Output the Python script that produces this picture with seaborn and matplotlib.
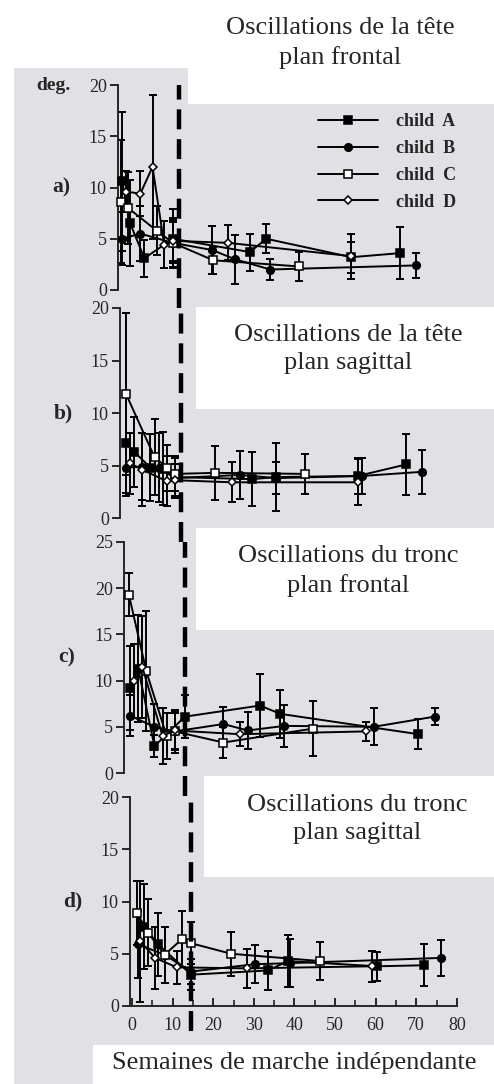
import matplotlib
matplotlib.use("Agg")
import matplotlib.pyplot as plt
import matplotlib.transforms as mtransforms
from matplotlib.patches import Rectangle
from matplotlib.lines import Line2D
from matplotlib.font_manager import FontProperties
import seaborn as sns

sns.set_style("ticks")
plt.rcParams["font.family"] = ["Liberation Serif", "DejaVu Serif"]

# ---------------- data ----------------
children = ["A", "B", "C", "D"]
legend_labels = ["child  A", "child  B", "child  C", "child  D"]
x_ticks = [0, 10, 20, 30, 40, 50, 60, 70, 80]
walking_onset_week = 14.5

titles = ["Oscillations de la tête\nplan frontal",
          "Oscillations de la tête\nplan sagittal",
          "Oscillations du tronc\nplan frontal",
          "Oscillations du tronc\nplan sagittal"]
panel_labels = ["a)", "b)", "c)", "d)"]
x_label = "Semaines de marche indépendante"
y_unit = "deg."

# panel a : head, frontal plane
wk_a_A = [0.5, 2.5, 6, 13, 32, 36, 57, 69]
val_a_A = [10.6, 6.5, 3.1, 5.0, 3.7, 5.0, 3.2, 3.6]
err_a_A = [6.8, 4.2, 1.8, 2.9, 1.8, 1.4, 1.5, 2.5]
wk_a_B = [0.5, 5, 13, 22.7, 28.3, 37, 73]
val_a_B = [5.0, 5.5, 4.6, 3.9, 3.0, 2.0, 2.4]
err_a_B = [2.6, 2.7, 2.0, 2.3, 2.4, 1.0, 1.2]
wk_a_C = [0.3, 2, 9, 13, 23, 44]
val_a_C = [8.6, 8.0, 5.8, 4.6, 2.9, 2.3]
err_a_C = [6.0, 3.5, 2.4, 2.4, 1.3, 1.4]
wk_a_D = [1.5, 5, 8, 10.9, 13, 26.6, 57]
val_a_D = [9.6, 9.4, 12.0, 4.4, 4.8, 4.6, 3.3]
err_a_D = [2.0, 2.2, 7.0, 2.3, 2.0, 1.7, 2.2]

# panel b : head, sagittal plane
wk_b_A = [1, 3, 7, 10, 13, 32, 38, 58, 70]
val_b_A = [7.1, 6.3, 4.8, 4.7, 3.9, 3.7, 3.9, 4.0, 5.1]
err_b_A = [5.0, 3.3, 3.2, 3.5, 2.0, 2.6, 3.2, 1.7, 2.9]
wk_b_B = [1, 5, 9, 13, 29, 38, 59, 74]
val_b_B = [4.8, 4.9, 4.8, 3.8, 4.1, 3.8, 4.0, 4.4]
err_b_B = [2.4, 3.2, 3.3, 1.9, 2.3, 1.5, 1.7, 2.1]
wk_b_C = [1, 8, 11, 13, 23, 45]
val_b_C = [11.8, 5.8, 4.8, 4.2, 4.3, 4.2]
err_b_C = [7.7, 3.6, 2.2, 1.6, 2.6, 1.9]
wk_b_D = [2, 5, 11, 13, 27, 58]
val_b_D = [5.2, 4.6, 3.5, 3.6, 3.4, 3.4]
err_b_D = [2.9, 3.5, 2.4, 1.5, 1.9, 2.2]

# panel c : trunk, frontal plane
wk_c_A = [1, 3, 7, 14.5, 33, 38, 72]
val_c_A = [9.2, 11.3, 2.9, 6.1, 7.3, 6.4, 4.2]
err_c_A = [4.5, 5.8, 1.2, 2.3, 3.4, 2.6, 1.6]
wk_c_B = [1, 7, 12, 24, 30, 39, 61, 76]
val_c_B = [6.2, 5.0, 4.5, 5.3, 4.6, 5.1, 5.0, 6.1]
err_c_B = [2.2, 2.5, 2.0, 1.8, 2.0, 2.3, 2.0, 0.95]
wk_c_C = [0.7, 5, 10, 12, 24, 46]
val_c_C = [19.3, 11.0, 4.0, 4.5, 3.3, 4.8]
err_c_C = [2.3, 6.5, 2.5, 2.3, 1.7, 3.0]
wk_c_D = [2, 4, 9, 12, 28, 59]
val_c_D = [10.0, 11.5, 4.0, 4.6, 4.2, 4.5]
err_c_D = [4.0, 5.5, 3.0, 2.0, 1.3, 1.0]

# panel d : trunk, sagittal plane
wk_d_A = [3, 6.4, 14.6, 33.5, 38.4, 60.4, 72]
val_d_A = [7.6, 5.9, 3.0, 3.4, 4.3, 3.8, 3.9]
err_d_A = [4.1, 3.0, 1.5, 1.9, 2.5, 1.4, 2.0]
wk_d_B = [1.5, 8, 14.6, 30.3, 39, 76]
val_d_B = [5.9, 4.9, 3.3, 4.0, 4.1, 4.6]
err_d_B = [3.2, 2.7, 1.2, 1.8, 2.3, 1.7]
wk_d_C = [1.2, 4, 8, 12.3, 14.6, 24.4, 46.3]
val_d_C = [8.9, 7.0, 4.9, 6.4, 6.0, 5.0, 4.3]
err_d_C = [3.1, 3.2, 2.7, 2.7, 2.0, 2.1, 1.8]
wk_d_D = [2, 5.7, 11, 28.3, 59]
val_d_D = [6.2, 4.6, 3.7, 3.6, 3.8]
err_d_D = [5.8, 3.0, 1.6, 1.9, 1.5]

panels = [
    {"A": (wk_a_A, val_a_A, err_a_A), "B": (wk_a_B, val_a_B, err_a_B),
     "C": (wk_a_C, val_a_C, err_a_C), "D": (wk_a_D, val_a_D, err_a_D)},
    {"A": (wk_b_A, val_b_A, err_b_A), "B": (wk_b_B, val_b_B, err_b_B),
     "C": (wk_b_C, val_b_C, err_b_C), "D": (wk_b_D, val_b_D, err_b_D)},
    {"A": (wk_c_A, val_c_A, err_c_A), "B": (wk_c_B, val_c_B, err_c_B),
     "C": (wk_c_C, val_c_C, err_c_C), "D": (wk_c_D, val_c_D, err_c_D)},
    {"A": (wk_d_A, val_d_A, err_d_A), "B": (wk_d_B, val_d_B, err_d_B),
     "C": (wk_d_C, val_d_C, err_d_C), "D": (wk_d_D, val_d_D, err_d_D)},
]
y_max = [20, 20, 25, 20]
y_tick_step = 5

# ---------------- styling ----------------
W, H = 494, 1084
GREY = "#e1e1e5"
marker_style = {
    "A": dict(marker="s", markerfacecolor="black", markersize=5.5),
    "B": dict(marker="o", markerfacecolor="black", markersize=5.5),
    "C": dict(marker="s", markerfacecolor="white", markersize=5.5),
    "D": dict(marker="D", markerfacecolor="white", markersize=3.8),
}
# axes placement in pixels: left, top, bottom
ax_px = [(118, 85, 290), (120, 308, 518), (124, 542, 773), (130, 797, 1006)]
px_per_week = 4.06
x_lo, x_hi = -0.5, 80
dash_ext = [0.09, 0.115, 0.10, 0.12]
label_y = [10, 10, 12.5, 10]

fig = plt.figure(figsize=(W / 100, H / 100), dpi=100)
fig.patch.set_facecolor("white")


def frect(x0, y0, x1, y1, color):
    fig.patches.append(Rectangle((x0 / W, 1 - y1 / H), (x1 - x0) / W, (y1 - y0) / H,
                                 transform=fig.transFigure, facecolor=color,
                                 edgecolor="none", zorder=-5))


# scanned grey page with pasted white caption boxes
frect(14, 68, 494, 1084, GREY)
frect(188, 60, 494, 104, "white")
frect(196, 307, 494, 409, "white")
frect(196, 528, 494, 630, "white")
frect(204, 776, 494, 877, "white")
frect(93, 1045, 494, 1084, "white")

lw = 1.4
axes = []
for i, data in enumerate(panels):
    left, top, bottom = ax_px[i]
    width = (x_hi - x_lo) * px_per_week
    ax = fig.add_axes([left / W, 1 - bottom / H, width / W, (bottom - top) / H])
    ax.set_facecolor("none")
    for child in children:
        wk, val, err = data[child]
        ax.errorbar(wk, val, yerr=err, fmt="none", ecolor="black",
                    elinewidth=lw, capsize=3.2, capthick=lw, clip_on=False, zorder=2)
        sns.lineplot(x=wk, y=val, ax=ax, color="black", lw=lw, estimator=None,
                     markeredgecolor="black", markeredgewidth=1.1,
                     legend=False, clip_on=False, zorder=3, **marker_style[child])
    ax.axvline(walking_onset_week, ymin=-dash_ext[i], ymax=1.0, color="black",
               lw=3.2, ls=(0, (4.5, 2.2)), clip_on=False, zorder=4)
    ax.set_xlim(x_lo, x_hi)
    ax.set_ylim(0, y_max[i])
    ax.set_yticks(list(range(0, y_max[i] + 1, y_tick_step)))
    ax.set_xlabel("")
    ax.set_ylabel("")
    for s in ["top", "right"]:
        ax.spines[s].set_visible(False)
    ax.spines["left"].set_linewidth(1.4)
    ax.tick_params(axis="y", direction="out", length=6, width=1.4, labelsize=13, pad=2)
    if i < 3:
        ax.spines["bottom"].set_visible(False)
        ax.set_xticks([])
    else:
        ax.spines["bottom"].set_linewidth(1.4)
        ax.set_xticks(x_ticks)
        ax.set_xticks([t + 5 for t in x_ticks[:-1]], minor=True)
        ax.tick_params(axis="x", which="major", direction="in", length=6, width=1.4,
                       labelsize=13, pad=8)
        ax.tick_params(axis="x", which="minor", direction="in", length=4, width=1.2)
    tr = mtransforms.blended_transform_factory(ax.transAxes, ax.transData)
    ax.text(-57 / width, label_y[i], panel_labels[i], transform=tr, ha="center",
            va="center", fontsize=15.5, fontweight="bold")
    axes.append(ax)

# unit label
tr0 = mtransforms.blended_transform_factory(axes[0].transAxes, axes[0].transData)
axes[0].text(-65 / ((x_hi - x_lo) * px_per_week), 20, y_unit, transform=tr0,
             ha="center", va="center", fontsize=14, fontweight="bold")

# legend
handles = [Line2D([], [], color="black", lw=lw, markeredgecolor="black",
                  markeredgewidth=1.1, **marker_style[c]) for c in children]
axes[0].legend(handles, legend_labels, loc="upper left",
               bbox_to_anchor=(318 / W, 1 - 113 / H), bbox_transform=fig.transFigure,
               frameon=False, handlelength=3.3, handletextpad=1.0, labelspacing=0.55,
               borderpad=0, borderaxespad=0,
               prop=FontProperties(family="Liberation Serif", weight="bold", size=13))

# caption texts
title_pos = [(340, 43), (348, 349), (348, 571), (357, 819)]
for (tx, ty), t in zip(title_pos, titles):
    fig.text(tx / W, 1 - ty / H, t, ha="center", va="center", fontsize=19,
             linespacing=1.35, multialignment="center")
fig.text(294 / W, 1 - 1063 / H, x_label, ha="center", va="center", fontsize=19)

fig.savefig("out.png", dpi=100)
